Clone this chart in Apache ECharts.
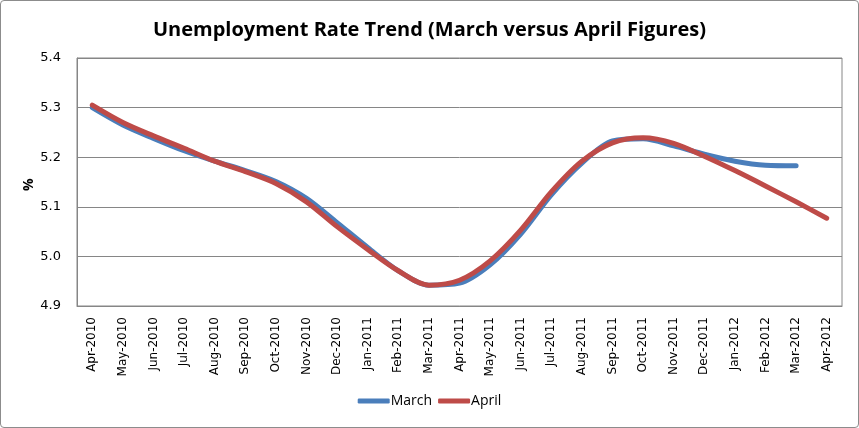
<!DOCTYPE html>
<html>
<head>
<meta charset="utf-8">
<script src="https://cdn.jsdelivr.net/npm/echarts@6/dist/echarts.min.js"></script>
<style>
  html, body { margin: 0; padding: 0; background: #fff; }
  #chart { width: 857px; height: 426px; border: 1px solid #8c8c8c; border-radius: 4px; }
</style>
</head>
<body>
<div id="chart"></div>
<script>
const months = ['Apr-2010', 'May-2010', 'Jun-2010', 'Jul-2010', 'Aug-2010', 'Sep-2010', 'Oct-2010', 'Nov-2010',
  'Dec-2010', 'Jan-2011', 'Feb-2011', 'Mar-2011', 'Apr-2011', 'May-2011', 'Jun-2011', 'Jul-2011', 'Aug-2011',
  'Sep-2011', 'Oct-2011', 'Nov-2011', 'Dec-2011', 'Jan-2012', 'Feb-2012', 'Mar-2012', 'Apr-2012'];
const marchRates = [5.300, 5.265, 5.238, 5.213, 5.192, 5.173, 5.151, 5.117, 5.068, 5.018, 4.971, 4.942,
  4.946, 4.983, 5.045, 5.124, 5.188, 5.233, 5.237, 5.223, 5.206, 5.192, 5.184, 5.183, null];
const aprilRates = [5.305, 5.270, 5.243, 5.218, 5.192, 5.171, 5.147, 5.110, 5.060, 5.014, 4.971, 4.942,
  4.952, 4.991, 5.053, 5.130, 5.192, 5.229, 5.239, 5.228, 5.202, 5.173, 5.142, 5.110, 5.077];
const yTicks = { min: 4.9, max: 5.4, interval: 0.1 };

const font = '"Open Sans", sans-serif';
const chart = echarts.init(document.getElementById('chart'), null, { renderer: 'canvas' });

chart.setOption({
  animation: false,
  title: {
    text: 'Unemployment Rate Trend (March versus April Figures)',
    left: 'center',
    top: 14,
    textStyle: { fontFamily: font, fontSize: 20, fontWeight: 'bold', color: '#000' }
  },
  legend: {
    bottom: 14,
    left: 'center',
    itemWidth: 32,
    itemHeight: 5,
    itemGap: 6,
    icon: 'roundRect',
    textStyle: { fontFamily: font, fontSize: 14, color: '#000', padding: [0, 0, 0, -4] },
    data: ['March', 'April']
  },
  // y axis title, placed by hand like Excel does
  graphic: [{
    type: 'text',
    x: 21,
    y: 190,
    rotation: Math.PI / 2,
    style: { text: '%', fontFamily: font, fontSize: 14, fontWeight: 'bold', fill: '#000' }
  }],
  grid: {
    left: 76,
    right: 16,
    top: 57,
    bottom: 121,
    show: true,
    borderColor: '#868686',
    borderWidth: 1
  },
  xAxis: {
    type: 'category',
    data: months,
    boundaryGap: true,
    axisLine: { lineStyle: { color: '#868686' } },
    axisTick: { show: false },
    axisLabel: {
      rotate: 90,
      interval: 0,
      margin: 11,
      color: '#000',
      fontFamily: 'DejaVu Sans, sans-serif',
      fontSize: 12
    }
  },
  yAxis: {
    type: 'value',
    min: yTicks.min,
    max: yTicks.max,
    interval: yTicks.interval,
    axisLine: { show: true, lineStyle: { color: '#868686' } },
    axisTick: { show: false },
    axisLabel: {
      color: '#000',
      fontFamily: 'DejaVu Sans, sans-serif',
      fontSize: 13,
      margin: 16,
      formatter: v => v.toFixed(1)
    },
    splitLine: { lineStyle: { color: '#868686' } }
  },
  series: [
    {
      name: 'March',
      type: 'line',
      data: marchRates,
      smooth: 0.3,
      symbol: 'none',
      lineStyle: { width: 5, color: '#4A7EBB', cap: 'round', join: 'round' },
      itemStyle: { color: '#4A7EBB' }
    },
    {
      name: 'April',
      type: 'line',
      data: aprilRates,
      smooth: 0.3,
      symbol: 'none',
      lineStyle: { width: 5, color: '#BE4B48', cap: 'round', join: 'round' },
      itemStyle: { color: '#BE4B48' }
    }
  ]
});
</script>
</body>
</html>
